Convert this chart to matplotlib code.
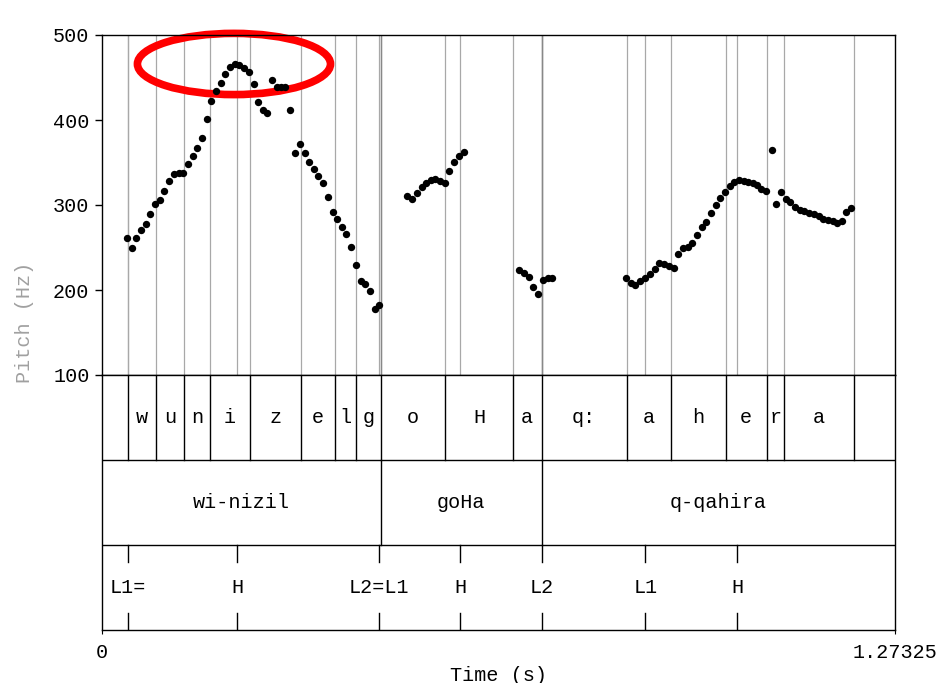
import matplotlib
matplotlib.use("Agg")
import matplotlib.pyplot as plt
from matplotlib.patches import Ellipse

plt.rcParams['font.family'] = ['Liberation Mono', 'DejaVu Sans Mono']

t_end = 1.27325

# pitch track (time s, Hz)
seg1_t = [0.0406, 0.0487, 0.0551, 0.0631, 0.0707, 0.0776, 0.0856, 0.0936, 0.1000, 0.1081,
          0.1156, 0.1232, 0.1305, 0.1381, 0.1461, 0.1525, 0.1606, 0.1681, 0.1755, 0.1830,
          0.1906, 0.1975, 0.2050, 0.2131, 0.2205, 0.2280, 0.2355, 0.2436, 0.2505, 0.2580,
          0.2654, 0.2725, 0.2805, 0.2874, 0.2943, 0.3023, 0.3104, 0.3179, 0.3259, 0.3324,
          0.3409, 0.3473, 0.3553, 0.3634, 0.3704, 0.3778, 0.3858, 0.3923, 0.4003, 0.4078,
          0.4159, 0.4228, 0.4308, 0.4379, 0.4452]
seg1_f = [261.5, 249.8, 261.5, 270.2, 277.3, 289.1, 300.6, 305.3, 316.5, 328.6,
          336.5, 337.3, 338.0, 347.9, 357.6, 367.4, 379.2, 400.8, 422.4, 434.1,
          443.9, 454.5, 462.7, 465.5, 464.4, 461.5, 456.1, 442.4, 421.5, 411.4,
          408.2, 447.1, 438.5, 439.2, 439.2, 411.8, 360.8, 371.8, 361.5, 350.9,
          342.0, 334.1, 325.5, 309.8, 291.2, 283.8, 274.1, 265.9, 250.9, 229.4,
          210.9, 207.1, 198.8, 177.3, 182.0]

seg2_t = [0.4892, 0.4973, 0.5058, 0.5133, 0.5202, 0.5278, 0.5352, 0.5427, 0.5507, 0.5576,
          0.5652, 0.5727, 0.5808]
seg2_f = [310.6, 306.7, 314.1, 321.5, 326.2, 329.4, 330.9, 328.2, 325.5, 340.4,
          350.9, 358.0, 362.7]

seg3_t = [0.6696, 0.6776, 0.6856, 0.6916, 0.7006, 0.7081, 0.7156, 0.7230]
seg3_f = [223.5, 219.6, 214.9, 203.9, 194.9, 211.4, 214.5, 214.5]

seg4_t = [0.8414, 0.8489, 0.8563, 0.8638, 0.8719, 0.8794, 0.8874, 0.8948, 0.9024, 0.9099,
          0.9180, 0.9253, 0.9324, 0.9404, 0.9478, 0.9549, 0.9629, 0.9698, 0.9783, 0.9854,
          0.9928, 1.0003, 1.0079, 1.0153, 1.0228, 1.0304, 1.0373, 1.0448, 1.0514, 1.0589,
          1.0667, 1.0753, 1.0822, 1.0898, 1.0978, 1.1047, 1.1127, 1.1202, 1.1276, 1.1357,
          1.1432, 1.1508, 1.1577, 1.1652, 1.1733, 1.1802, 1.1877, 1.1951, 1.2026]
seg4_f = [214.1, 208.6, 206.2, 210.2, 214.5, 218.8, 225.1, 232.1, 230.6, 228.2,
          225.9, 242.0, 249.8, 250.9, 255.3, 265.1, 274.5, 280.0, 290.2, 300.0,
          308.6, 314.9, 322.4, 327.1, 329.1, 328.2, 326.7, 325.9, 323.9, 319.2,
          316.8, 364.4, 300.8, 315.6, 307.4, 303.2, 297.3, 294.1, 292.6, 290.6,
          289.1, 287.1, 283.9, 282.0, 280.8, 279.2, 281.5, 291.8, 296.1]

# tier 1: phones
phone_bounds = [0, 0.0413, 0.0862, 0.1321, 0.1729, 0.2376, 0.3200, 0.3736, 0.4074, 0.4480,
                0.5512, 0.6594, 0.7060, 0.8425, 0.9141, 1.0014, 1.0673, 1.0950, 1.2079, t_end]
phones = ["", "w", "u", "n", "i", "z", "e", "l", "g", "o", "H", "a", "q:", "a", "h", "e", "r", "a", ""]

# tier 2: words
word_bounds = [0, 0.4480, 0.7060, t_end]
words = ["wi-nizil", "goHa", "q-qahira"]

# tier 3: tones (points)
tone_times = [0.0413, 0.2172, 0.4452, 0.5753, 0.7060, 0.8723, 1.0196]
tones = ["L1=", "H", "L2=L1", "H", "L2", "L1", "H"]

W, H = 940, 683
fig = plt.figure(figsize=(W / 100, H / 100), dpi=100)
left, width = 102 / W, 793 / W
ax = fig.add_axes([left, 1 - 375 / H, width, 340 / H])
tax = fig.add_axes([left, 1 - 630 / H, width, 255 / H], sharex=ax)

fs = 14.5

# grey guide lines in the pitch panel
for b in phone_bounds[1:-1] + tone_times:
    ax.axvline(b, color='#a8a8a8', lw=0.9, zorder=1)

for tt, ff in [(seg1_t, seg1_f), (seg2_t, seg2_f), (seg3_t, seg3_f), (seg4_t, seg4_f)]:
    ax.plot(tt, ff, 'o', color='black', ms=5.3, mew=0, zorder=3)

ell = Ellipse((0.2119, 465.9), 0.3100, 72, fill=False, edgecolor='#ff0000', lw=5.5,
              zorder=2, clip_on=False)
ax.add_patch(ell)

ax.set_xlim(0, t_end)
ax.set_ylim(100, 500)
ax.set_yticks([100, 200, 300, 400, 500])
ax.tick_params(axis='y', direction='out', length=5, width=1, pad=4, labelsize=fs)
ax.tick_params(axis='x', bottom=False, labelbottom=False)
for s in ax.spines.values():
    s.set_linewidth(1)
fig.text(24 / W, 1 - 322 / H, "Pitch (Hz)", rotation=90, ha='center', va='center',
         color='#a0a0a0', fontsize=fs)

# text grid
tax.set_ylim(0, 3)
tax.set_yticks([])
for y in [1, 2]:
    tax.axhline(y, color='black', lw=1)
for b in phone_bounds[1:-1]:
    tax.plot([b, b], [2, 3], color='black', lw=1)
for i, lab in enumerate(phones):
    tax.text((phone_bounds[i] + phone_bounds[i + 1]) / 2, 2.5, lab, ha='center', va='center',
             fontsize=fs)
for b in word_bounds[1:-1]:
    tax.plot([b, b], [1, 2], color='black', lw=1)
    ax.axvline(b, color='#888888', lw=1, zorder=1)
for i, lab in enumerate(words):
    tax.text((word_bounds[i] + word_bounds[i + 1]) / 2, 1.5, lab, ha='center', va='center',
             fontsize=fs)
for tt, lab in zip(tone_times, tones):
    tax.plot([tt, tt], [0, 0.2], color='black', lw=1)
    tax.plot([tt, tt], [0.8, 1], color='black', lw=1)
    tax.text(tt, 0.5, lab, ha='center', va='center', fontsize=fs)

tax.set_xticks([0, t_end])
tax.set_xticklabels(["0", "1.27325"])
tax.tick_params(axis='x', direction='out', length=3, pad=6, labelsize=fs)
tax.set_xlabel("Time (s)", fontsize=fs, labelpad=3)
for s in tax.spines.values():
    s.set_linewidth(1)

fig.savefig("out.png", dpi=100)
